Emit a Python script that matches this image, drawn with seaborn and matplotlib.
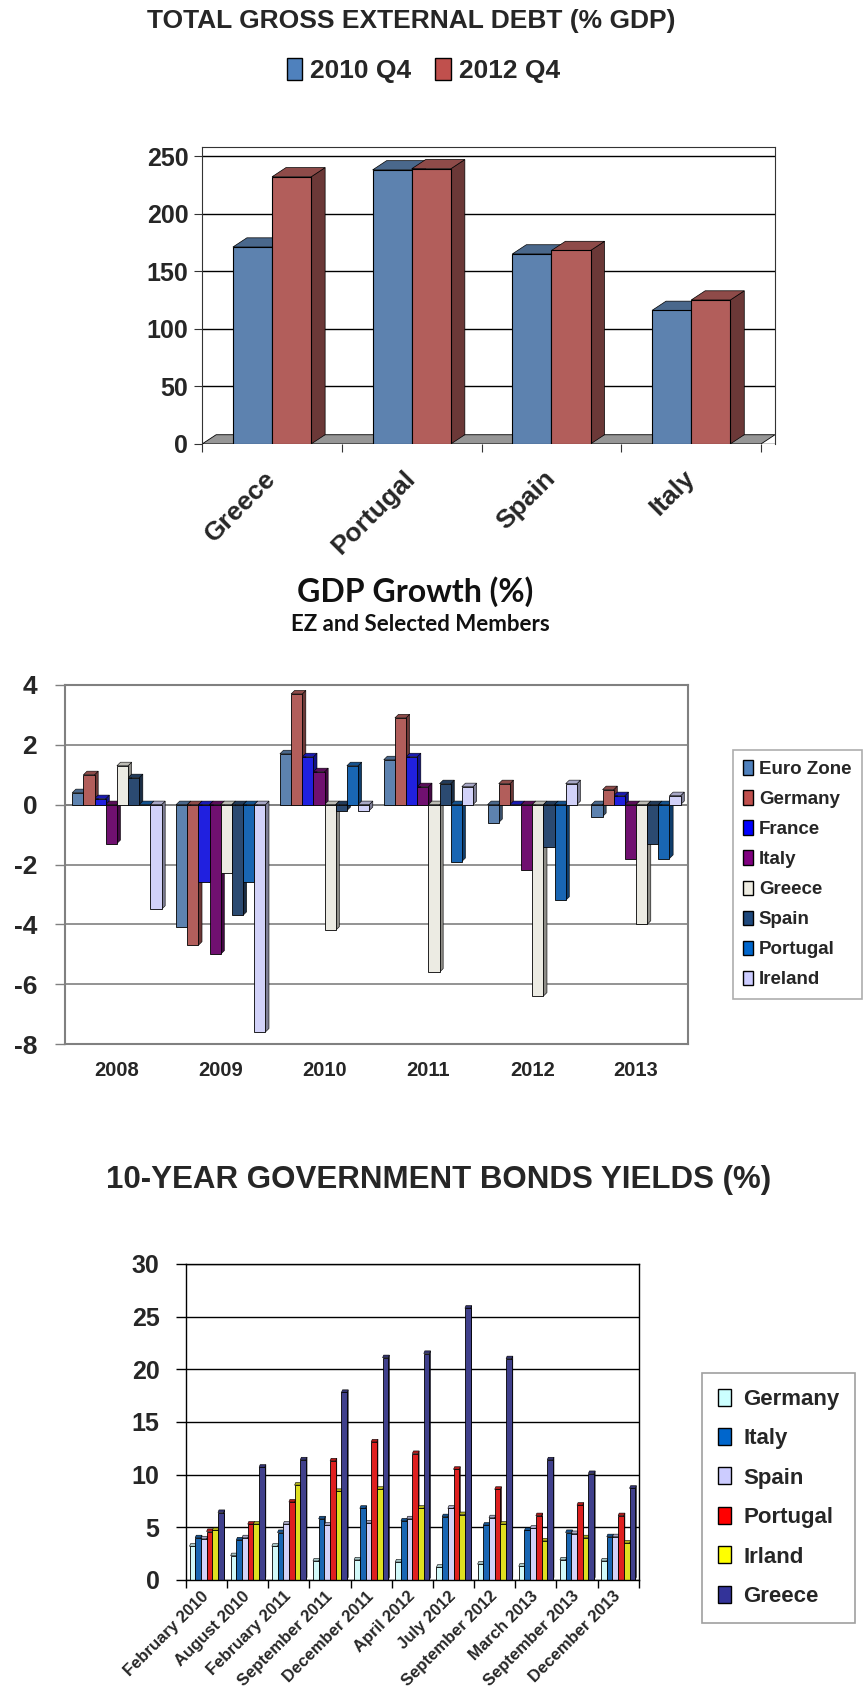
import pandas as pd
import matplotlib
matplotlib.use('Agg')
import matplotlib.pyplot as plt
import matplotlib.colors as mcolors
from matplotlib.patches import Polygon, Patch
import seaborn as sns

# ---- Total gross external debt (% GDP) ----
debt_countries = ['Greece', 'Portugal', 'Spain', 'Italy']
debt_2010_q4 = [171, 238, 165, 116]
debt_2012_q4 = [232, 239, 168, 125]

# ---- GDP growth (%) ----
gdp_years = ['2008', '2009', '2010', '2011', '2012', '2013']
gdp_euro_zone = [0.4, -4.1, 1.7, 1.5, -0.6, -0.4]
gdp_germany = [1.0, -4.7, 3.7, 2.9, 0.7, 0.5]
gdp_france = [0.2, -2.6, 1.6, 1.6, 0.0, 0.3]
gdp_italy = [-1.3, -5.0, 1.1, 0.6, -2.2, -1.8]
gdp_greece = [1.3, -2.3, -4.2, -5.6, -6.4, -4.0]
gdp_spain = [0.9, -3.7, -0.2, 0.7, -1.4, -1.3]
gdp_portugal = [0.0, -2.6, 1.3, -1.9, -3.2, -1.8]
gdp_ireland = [-3.5, -7.6, -0.2, 0.6, 0.7, 0.3]

# ---- 10-year government bond yields (%) ----
bond_dates = ['February 2010', 'August 2010', 'February 2011', 'September 2011',
              'December 2011', 'April 2012', 'July 2012', 'September 2012',
              'March 2013', 'September 2013', 'December 2013']
bond_germany = [3.2, 2.3, 3.2, 1.8, 1.9, 1.7, 1.2, 1.5, 1.3, 1.9, 1.8]
bond_italy = [4.0, 3.8, 4.5, 5.8, 6.8, 5.6, 6.0, 5.2, 4.7, 4.5, 4.1]
bond_spain = [3.9, 4.0, 5.3, 5.2, 5.4, 5.8, 6.8, 5.9, 4.9, 4.4, 4.1]
bond_portugal = [4.6, 5.3, 7.4, 11.3, 13.1, 12.0, 10.5, 8.6, 6.1, 7.1, 6.1]
bond_irland = [4.7, 5.3, 9.0, 8.4, 8.6, 6.8, 6.2, 5.3, 3.7, 4.0, 3.5]
bond_greece = [6.4, 10.7, 11.4, 17.8, 21.1, 21.5, 25.8, 21.0, 11.4, 10.1, 8.7]

debt_colors = {'2010 Q4': '#4F81BD', '2012 Q4': '#C0504D'}
gdp_colors = {'Euro Zone': '#4F81BD', 'Germany': '#C0504D', 'France': '#0000FF',
              'Italy': '#800080', 'Greece': '#EEECE1', 'Spain': '#1F497D',
              'Portugal': '#0066CC', 'Ireland': '#CCCCFF'}
bond_colors = {'Germany': '#CCFFFF', 'Italy': '#0066CC', 'Spain': '#CCCCFF',
               'Portugal': '#FF0000', 'Irland': '#FFFF00', 'Greece': '#333399'}

# long tables for seaborn
debt_df = pd.DataFrame({'country': debt_countries * 2,
                        'period': ['2010 Q4'] * 4 + ['2012 Q4'] * 4,
                        'value': debt_2010_q4 + debt_2012_q4})

gdp_series = {'Euro Zone': gdp_euro_zone, 'Germany': gdp_germany, 'France': gdp_france,
              'Italy': gdp_italy, 'Greece': gdp_greece, 'Spain': gdp_spain,
              'Portugal': gdp_portugal, 'Ireland': gdp_ireland}
gdp_df = pd.concat([pd.DataFrame({'year': gdp_years, 'member': k, 'value': v})
                    for k, v in gdp_series.items()])

bond_series = {'Germany': bond_germany, 'Italy': bond_italy, 'Spain': bond_spain,
               'Portugal': bond_portugal, 'Irland': bond_irland, 'Greece': bond_greece}
bond_df = pd.concat([pd.DataFrame({'date': bond_dates, 'country': k, 'value': v})
                     for k, v in bond_series.items()])

sns.set_theme(style='white')
plt.rcParams['font.family'] = ['Liberation Sans', 'DejaVu Sans']
plt.rcParams['axes.unicode_minus'] = False
NARROW = ['Liberation Sans Narrow', 'Liberation Sans', 'DejaVu Sans']
CALIBRI_LIKE = ['Lato', 'Liberation Sans', 'DejaVu Sans']


def shade(c, f):
    r, g, b = mcolors.to_rgb(c)
    return (r * f, g * f, b * f)


def add_depth(ax, dx, dy, lw=0.6):
    # fake the excel 3d look: side and top faces behind each bar
    for bar in list(ax.patches):
        x0, w = bar.get_x(), bar.get_width()
        y, h = bar.get_y(), bar.get_height()
        top, bot = max(y, y + h), min(y, y + h)
        fc = bar.get_facecolor()
        side = Polygon([(x0 + w, bot), (x0 + w + dx, bot + dy), (x0 + w + dx, top + dy), (x0 + w, top)],
                       closed=True, fc=shade(fc, 0.6), ec='black', lw=lw, zorder=0.9)
        lid = Polygon([(x0, top), (x0 + dx, top + dy), (x0 + w + dx, top + dy), (x0 + w, top)],
                      closed=True, fc=shade(fc, 0.8), ec='black', lw=lw, zorder=0.9)
        ax.add_patch(side)
        ax.add_patch(lid)


fig = plt.figure(figsize=(8.64, 16.88), dpi=100)

# ================= chart 1 =================
ax1 = fig.add_axes([0.234, 0.737, 0.663, 0.176])
sns.barplot(data=debt_df, x='country', y='value', hue='period', order=debt_countries,
            hue_order=list(debt_colors), palette=debt_colors, width=0.56, errorbar=None,
            edgecolor='black', linewidth=0.8, legend=False, ax=ax1)
add_depth(ax1, 0.1, 8, lw=0.5)
ax1.add_patch(Polygon([(-0.5, 0), (3.5, 0), (3.5 + 0.1, 8), (-0.5 + 0.1, 8)], closed=True,
                      fc='#969696', ec='black', lw=0.6, zorder=0.8))
ax1.set_xlim(-0.5, 3.6)
ax1.set_ylim(0, 258)
ax1.set_yticks([0, 50, 100, 150, 200, 250])
ax1.yaxis.grid(True, color='black', lw=1.0)
ax1.set_axisbelow(True)
ax1.set_xlabel('')
ax1.set_ylabel('')
for s in ['left', 'top', 'right']:
    ax1.spines[s].set_color('#333333')
    ax1.spines[s].set_linewidth(0.8)
ax1.spines['bottom'].set_visible(False)
ax1.tick_params(axis='y', length=6, width=0.8, color='#333333', direction='out', left=True, pad=4)
ax1.set_xticks(range(4))
ax1.set_xticks([-0.5, 0.5, 1.5, 2.5, 3.5], minor=True)
ax1.tick_params(axis='x', which='major', length=0, pad=22)
ax1.tick_params(axis='x', which='minor', length=6, width=0.8, color='#333333', bottom=True)
ax1.set_xticklabels(debt_countries, rotation=45, ha='right', va='center',
                    rotation_mode='anchor', fontsize=19, fontweight='bold')
for t in ax1.get_yticklabels():
    t.set_fontsize(18)
    t.set_fontweight('bold')
    t.set_family(NARROW)

fig.text(0.476, 0.9873, 'TOTAL GROSS EXTERNAL DEBT (% GDP)', ha='center', va='center',
         fontsize=19, fontweight='bold', family=NARROW)
h1 = [Patch(facecolor=c, edgecolor='black', lw=1) for c in debt_colors.values()]
fig.legend(h1, list(debt_colors), loc='center', bbox_to_anchor=(0.49, 0.958), ncol=2,
           frameon=False, handlelength=0.6, handleheight=0.9, handletextpad=0.3,
           columnspacing=0.9, prop={'family': NARROW, 'weight': 'bold', 'size': 19})

# ================= chart 2 =================
ax2 = fig.add_axes([0.0752, 0.3815, 0.721, 0.2127])
sns.barplot(data=gdp_df, x='year', y='value', hue='member', order=gdp_years,
            hue_order=list(gdp_colors), palette=gdp_colors, width=0.86, errorbar=None,
            edgecolor='black', linewidth=0.6, legend=False, ax=ax2)
add_depth(ax2, 0.035, 0.12, lw=0.4)
ax2.set_xlim(-0.5, 5.5)
ax2.set_ylim(-8, 4)
ax2.set_yticks([-8, -6, -4, -2, 0, 2, 4])
ax2.yaxis.grid(True, color='#808080', lw=1.2)
ax2.axhline(0, color='#808080', lw=1.2, zorder=0.5)
ax2.set_axisbelow(True)
ax2.set_xlabel('')
ax2.set_ylabel('')
for s in ax2.spines.values():
    s.set_color('#808080')
    s.set_linewidth(1.5)
ax2.tick_params(axis='y', length=7, width=1, color='#808080', direction='out', left=True, pad=13)
ax2.tick_params(axis='x', length=0, pad=12)
for t in ax2.get_yticklabels():
    t.set_fontsize(19)
    t.set_fontweight('bold')
for t in ax2.get_xticklabels():
    t.set_fontsize(14.5)
    t.set_fontweight('bold')

fig.text(0.480, 0.6493, 'GDP Growth (%)', ha='center', va='center', fontsize=23,
         fontweight='bold', color='#111111', family=CALIBRI_LIKE)
fig.text(0.487, 0.6303, 'EZ and Selected Members', ha='center', va='center', fontsize=16,
         fontweight='bold', color='#111111', family=CALIBRI_LIKE)
h2 = [Patch(facecolor=c, edgecolor='black', lw=1) for c in gdp_colors.values()]
lg2 = fig.legend(h2, list(gdp_colors), loc='upper left', bbox_to_anchor=(0.848, 0.5557),
                 borderaxespad=0, frameon=True, fancybox=False, edgecolor='#999999',
                 handlelength=0.55, handleheight=0.8, handletextpad=0.3, labelspacing=0.66,
                 borderpad=0.55, prop={'weight': 'bold', 'size': 13.5})
lg2.get_frame().set_linewidth(1.2)

# ================= chart 3 =================
ax3 = fig.add_axes([0.2153, 0.064, 0.524, 0.1872])
sns.barplot(data=bond_df, x='date', y='value', hue='country', order=bond_dates,
            hue_order=list(bond_colors), palette=bond_colors, width=0.83, errorbar=None,
            edgecolor='black', linewidth=0.6, legend=False, ax=ax3)
add_depth(ax3, 0.025, 0.25, lw=0.4)
ax3.set_xlim(-0.5, 10.5)
ax3.set_ylim(0, 30)
ax3.set_yticks([0, 5, 10, 15, 20, 25, 30])
ax3.yaxis.grid(True, color='black', lw=1.0)
ax3.set_axisbelow(True)
ax3.set_xlabel('')
ax3.set_ylabel('')
for s in ax3.spines.values():
    s.set_color('black')
    s.set_linewidth(1.0)
ax3.tick_params(axis='y', length=7, width=1, color='black', direction='out', left=True, pad=12)
ax3.set_xticks(range(len(bond_dates)))
ax3.set_xticks([i - 0.5 for i in range(len(bond_dates) + 1)], minor=True)
ax3.tick_params(axis='x', which='major', length=0, pad=10)
ax3.tick_params(axis='x', which='minor', length=6, width=1, color='black', bottom=True)
ax3.set_xticklabels(bond_dates, rotation=45, ha='right', va='center', rotation_mode='anchor',
                    fontsize=12, fontweight='bold')
for t in ax3.get_yticklabels():
    t.set_fontsize(18)
    t.set_fontweight('bold')

fig.text(0.508, 0.3009, '10-YEAR GOVERNMENT BONDS YIELDS (%)', ha='center', va='center',
         fontsize=22.5, fontweight='bold')
h3 = [Patch(facecolor=c, edgecolor='black', lw=1) for c in bond_colors.values()]
lg3 = fig.legend(h3, list(bond_colors), loc='upper left', bbox_to_anchor=(0.8125, 0.1866),
                 borderaxespad=0, frameon=True, fancybox=False, edgecolor='#888888',
                 handlelength=0.6, handleheight=0.8, handletextpad=0.55, labelspacing=0.82,
                 borderpad=0.7, prop={'weight': 'bold', 'size': 16})
lg3.get_frame().set_linewidth(1.2)

fig.savefig('out.png', dpi=100, facecolor='white')
